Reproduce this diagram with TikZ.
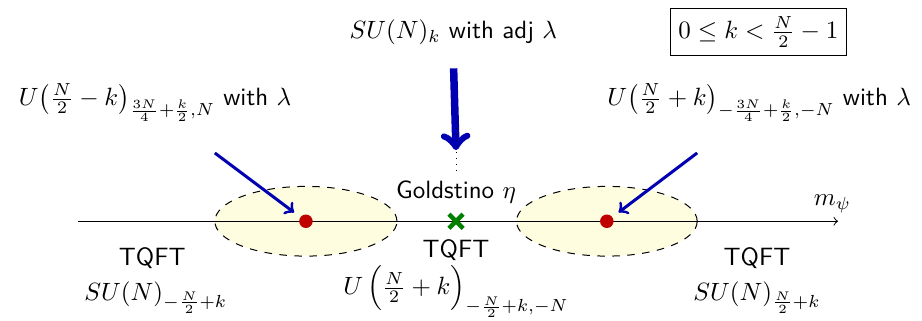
\documentclass[tikz,border=0pt]{standalone}
\usepackage{amsmath}
\usetikzlibrary{positioning}

\tikzset{
  phase/.style={draw,dashed,fill=yellow!12},
  vac/.style={circle,fill=red!75!black,inner sep=0pt,minimum size=5.4pt},
  flow/.style={->,very thick,blue!70!black},
  tqft/.style={font=\sffamily}
}

\begin{document}
\begin{tikzpicture}
\useasboundingbox (-6.41,-1.39) rectangle (6.55,3.11);
% phases around the two transitions
\draw[phase] (-2.11,0) ellipse [x radius=1.28,y radius=0.49];
\draw[phase] (2.12,0) ellipse [x radius=1.27,y radius=0.49];

% mass axis
\draw[->] (-5.31,0)--(5.37,0);
\node (mpsi) at (5.29,0.24) {$m_\psi$};
\node[vac] (dotL) at (-2.11,0) {};
\node[vac] (dotR) at (2.12,0) {};
\draw[green!50!black,line width=1.8pt] (-0.1,-0.1)--(0.1,0.1) (-0.1,0.1)--(0.1,-0.1);
\node (gold) at (0,0.41) {\textsf{Goldstino} $\eta$};

% deformations
\node (top) at (-0.04,2.66) {$SU(N)_k$ \textsf{with adj} $\lambda$};
\node[draw] (range) at (4.25,2.66) {$0\le k<\frac{N}{2}-1$};
\node (labL) at (-4.23,1.67) {$U\big(\frac{N}{2}-k\big)_{\frac{3N}{4}+\frac{k}{2},N}$ \textsf{with} $\lambda$};
\node (labR) at (4.26,1.67) {$U\big(\frac{N}{2}+k\big)_{-\frac{3N}{4}+\frac{k}{2},-N}$ \textsf{with} $\lambda$};
\coordinate (hit) at (0,1.0);
\coordinate (dotTop) at (0,1.39);
\coordinate (startL) at (-3.39,0.96);
\coordinate (startR) at (3.39,0.96);
\draw[->,line width=3pt,blue!70!black,shorten <=6pt] (top.south)--(hit);
\draw[dotted] (dotTop)--(gold.north);
\draw[flow,shorten >=3pt] (startL)--(dotL);
\draw[flow,shorten >=3pt] (startR)--(dotR);

% infrared theories
\node[tqft] (tqL) at (-4.27,-0.52) {TQFT};
\node[tqft] (tqM) at (0,-0.41) {TQFT};
\node[tqft] (tqR) at (4.23,-0.52) {TQFT};
\node (irL) at (-4.22,-1.07) {$SU(N)_{-\frac{N}{2}+k}$};
\node (irM) at (0,-0.99) {$U\,\Big(\frac{N}{2}+k\Big)_{-\frac{N}{2}+k,-N}$};
\node (irR) at (4.23,-1.07) {$SU(N)_{\frac{N}{2}+k}$};
\end{tikzpicture}
\end{document}
